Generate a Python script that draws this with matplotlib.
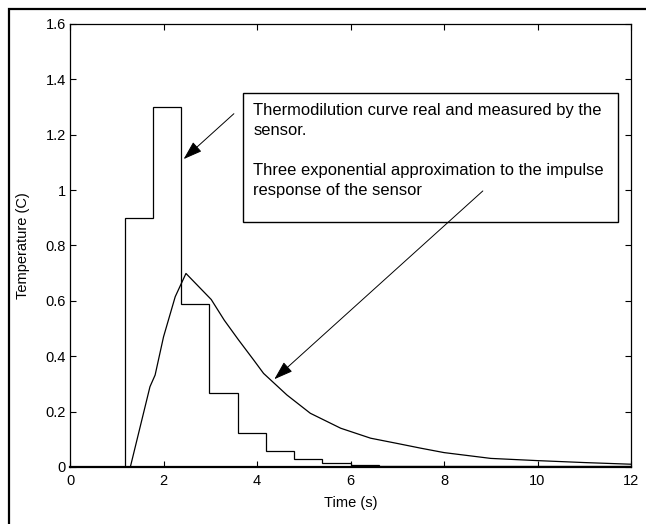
import matplotlib
matplotlib.use("Agg")
import matplotlib.pyplot as plt
from matplotlib.patches import Rectangle

plt.rcParams['font.family'] = ['Liberation Sans', 'DejaVu Sans']

# Measured (step) thermodilution curve
step_edges = [0, 1.18, 1.78, 2.38, 2.98, 3.59, 4.19, 4.79, 5.40, 6.00, 6.60, 12]
step_values = [0, 0.90, 1.30, 0.59, 0.267, 0.122, 0.056, 0.028, 0.014, 0.008, 0.003]

# Three-exponential approximation
approx_t = [0, 1.29, 1.5, 1.71, 1.82, 2.0, 2.25, 2.48, 2.79, 3.02, 3.3, 3.6, 3.93,
            4.14, 4.64, 5.14, 5.79, 6.43, 7.0, 7.5, 8.0, 9.0, 10.0, 11.0, 12.0]
approx_v = [0, 0, 0.145, 0.29, 0.332, 0.47, 0.615, 0.699, 0.645, 0.605, 0.53, 0.46, 0.386,
            0.338, 0.26, 0.194, 0.14, 0.104, 0.085, 0.068, 0.052, 0.031, 0.023, 0.016, 0.01]

x_ticks = [0, 2, 4, 6, 8, 10, 12]
y_ticks = [0, 0.2, 0.4, 0.6, 0.8, 1, 1.2, 1.4, 1.6]
y_tick_labels = ['0', '0.2', '0.4', '0.6', '0.8', '1', '1.2', '1.4', '1.6']

note_lines = ("Thermodilution curve real and measured by the\nsensor.\n\n"
              "Three exponential approximation to the impulse\nresponse of the sensor")

fig = plt.figure(figsize=(6.46, 5.24), dpi=100)
ax = fig.add_axes([0.1084, 0.1088, 0.8684, 0.8454])

ax.stairs(step_values, step_edges, baseline=None, color='black', lw=0.9)
ax.plot(approx_t, approx_v, color='black', lw=0.9)

ax.set_xlim(0, 12)
ax.set_ylim(0, 1.6)
ax.set_xticks(x_ticks)
ax.set_xticklabels([str(v) for v in x_ticks])
ax.set_yticks(y_ticks)
ax.set_yticklabels(y_tick_labels)
ax.tick_params(direction='in', top=True, right=True, length=4.5, width=0.8,
               labelsize=10.5)
ax.tick_params(axis='x', pad=5)
ax.tick_params(axis='y', pad=3)
for s in ax.spines.values():
    s.set_linewidth(0.9)
ax.spines['bottom'].set_linewidth(1.6)

ax.set_xlabel('Time (s)', fontsize=10.5, labelpad=6)
ax.set_ylabel('Temperature (C)', fontsize=10.5, labelpad=11)

# annotation box
ax.add_patch(Rectangle((0.309, 0.5537), 0.668, 0.29, transform=ax.transAxes,
                       fill=True, facecolor='white', edgecolor='black', lw=1.0, zorder=3))
ax.text(0.327, 0.821, note_lines, transform=ax.transAxes, fontsize=11.9,
        va='top', ha='left', linespacing=1.42, zorder=4)

arrow_kw = dict(arrowstyle='-|>,head_length=0.9,head_width=0.3', color='black',
                lw=0.7, shrinkA=0, shrinkB=0, mutation_scale=13)
ax.annotate('', xy=(2.43, 1.112), xytext=(3.505, 1.276), arrowprops=arrow_kw, zorder=5)
ax.annotate('', xy=(4.37, 0.317), xytext=(8.83, 0.997), arrowprops=arrow_kw, zorder=5)

# outer frame
fig.add_artist(Rectangle((0.0135, -0.1), 1.1, 0.9828 + 0.1, transform=fig.transFigure,
                         fill=False, edgecolor='black', lw=1.6, clip_on=False))

fig.savefig('out.png', dpi=100)
